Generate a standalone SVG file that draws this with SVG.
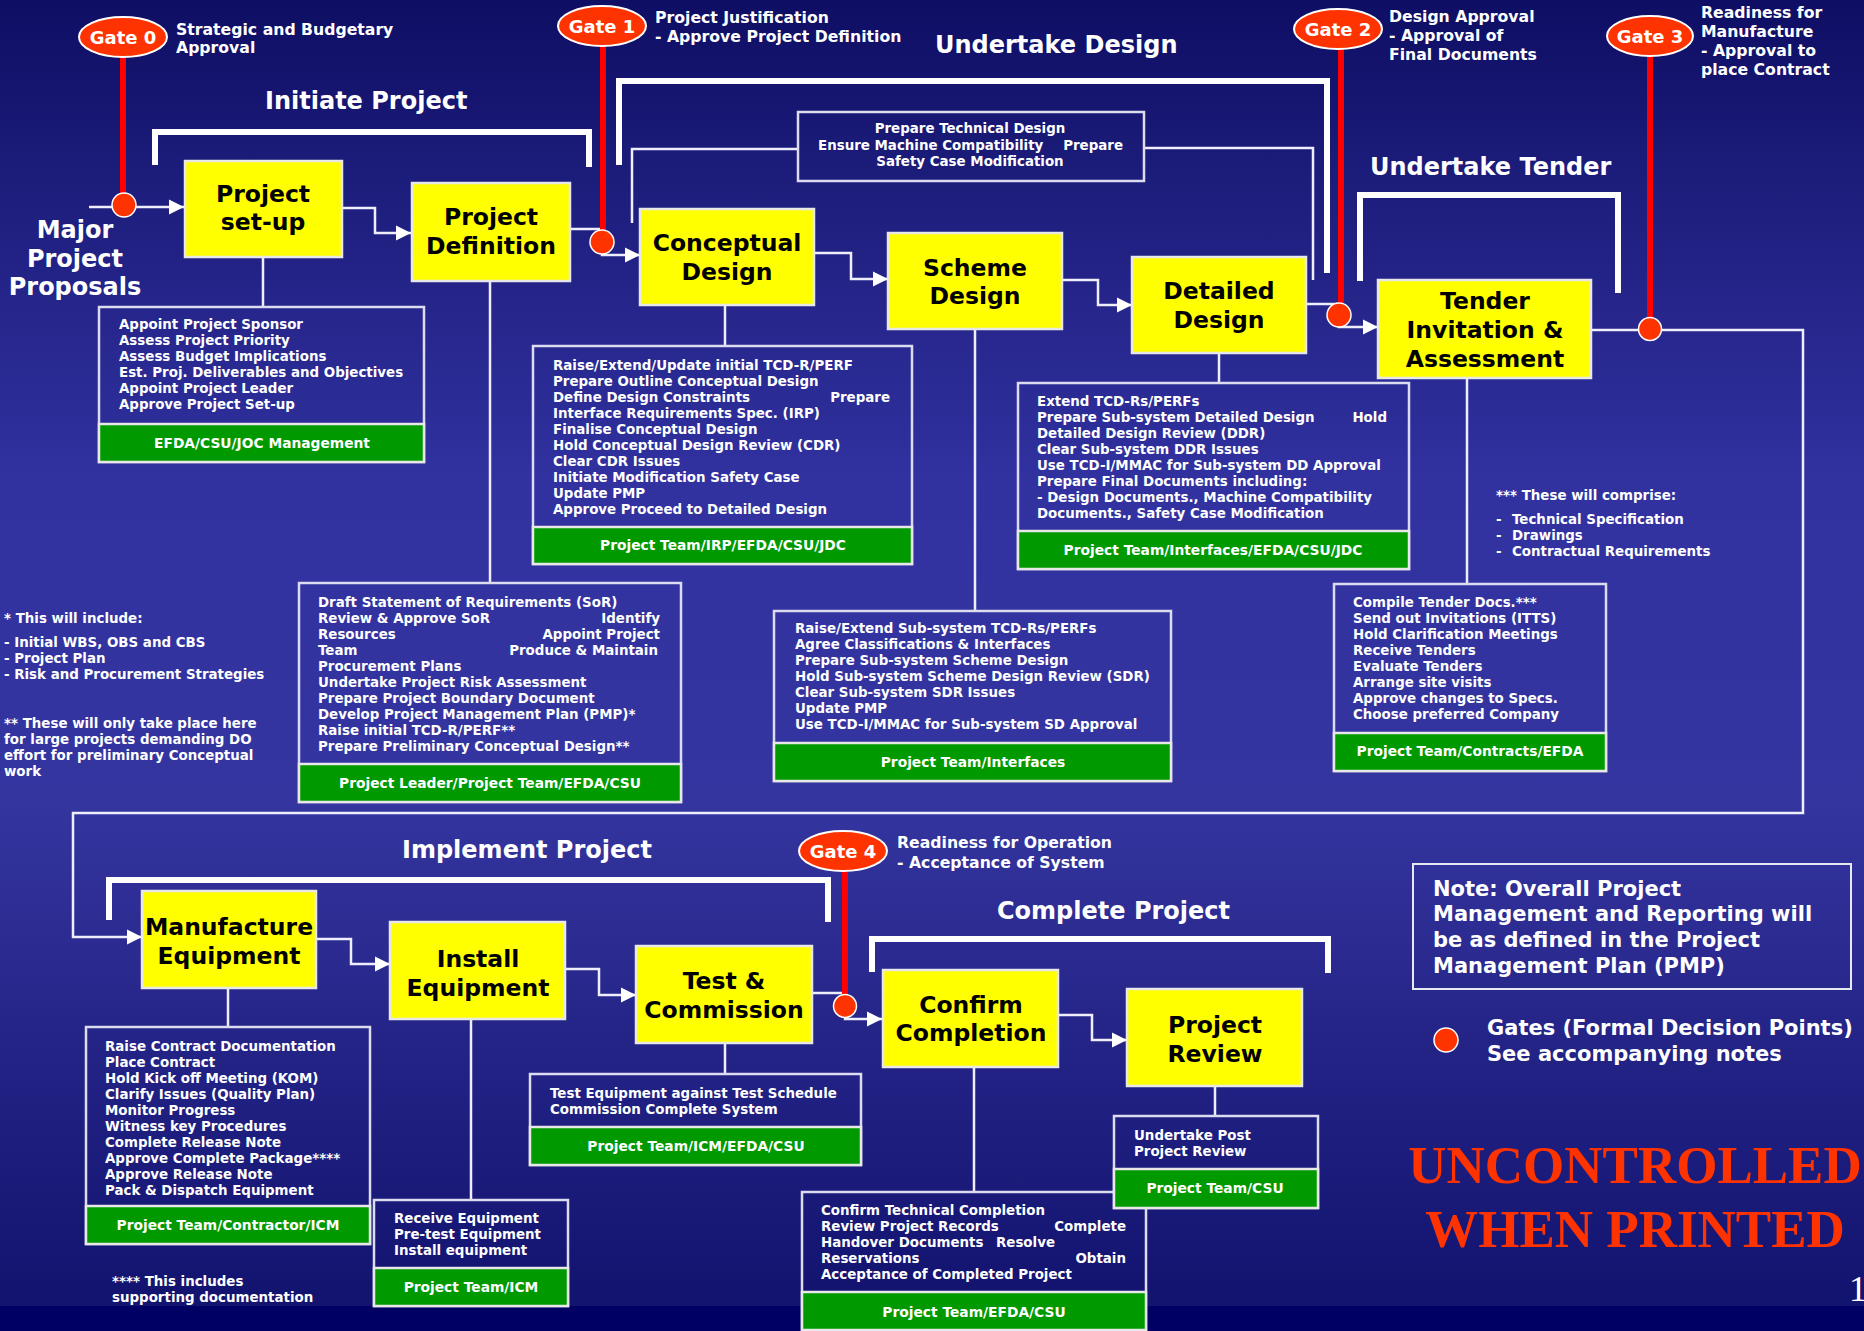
<svg xmlns="http://www.w3.org/2000/svg" width="1864" height="1331" viewBox="0 0 1864 1331">
<defs>
<linearGradient id="bg" x1="0" y1="0" x2="0" y2="1331" gradientUnits="userSpaceOnUse">
<stop offset="0" stop-color="#0e0e64"/>
<stop offset="0.15" stop-color="#1e1e7e"/>
<stop offset="0.36" stop-color="#3131a0"/>
<stop offset="0.6" stop-color="#3535a0"/>
<stop offset="0.76" stop-color="#26268a"/>
<stop offset="0.97" stop-color="#131370"/>
</linearGradient>
<marker id="ar" markerUnits="userSpaceOnUse" markerWidth="16" markerHeight="16" refX="15" refY="8" orient="auto">
<path d="M0,0.5 L15,8 L0,15.5 z" fill="#ffffff"/>
</marker>
<style>
text{font-family:"DejaVu Sans","Verdana",sans-serif;font-weight:bold}
.t{font-size:13.4px;fill:#ffffff}
.e{text-anchor:end}
.g{font-size:13.8px;fill:#ffffff;text-anchor:middle}
.bt{font-size:23.5px;fill:#000000;text-anchor:middle}
.h{font-size:24px;fill:#ffffff}
.gl{font-size:15.7px;fill:#ffffff}
.gt{font-size:18px;fill:#ffffff;text-anchor:middle}
.yb{fill:#ffff00;stroke:#e8e8e8;stroke-width:2.5}
.tb{fill:none;stroke:#dcdcf0;stroke-width:2.5}
.gb{fill:#009900;stroke:#e8e8e8;stroke-width:2.5}
.cn{fill:none;stroke:#eeeeff;stroke-width:2.5}
.br{fill:none;stroke:#ffffff;stroke-width:6;stroke-linejoin:miter}
.rl{stroke:#ff0000;stroke-width:6}
.gc{fill:#ff3300;stroke:#ffffff;stroke-width:1.5}
.ge{fill:#ff3300;stroke:#ffffff;stroke-width:2}
.nt{font-size:21px;fill:#ffffff}
.st{font-family:"Liberation Serif","Times New Roman",serif;font-size:53px;fill:#ff3300;text-anchor:middle}
</style>
</defs>
<rect x="0" y="0" width="1864" height="1331" fill="url(#bg)"/>
<rect x="0" y="1306" width="1864" height="25" fill="#000064"/>

<g id="headings">
<text class="h" x="265" y="109">Initiate Project</text>
<text class="h" x="935" y="53">Undertake Design</text>
<text class="h" x="1370" y="175">Undertake Tender</text>
<text class="h" x="402" y="858">Implement Project</text>
<text class="h" x="997" y="919">Complete Project</text>
<text class="h" x="75" y="238" text-anchor="middle">Major</text>
<text class="h" x="75" y="267" text-anchor="middle">Project</text>
<text class="h" x="75" y="295" text-anchor="middle">Proposals</text>
</g>

<g id="brackets">
<polyline class="br" points="155,165 155,132 589,132 589,167"/>
<polyline class="br" points="619,165 619,81 1327,81 1327,273"/>
<polyline class="br" points="1360,281 1360,195 1618,195 1618,293"/>
<polyline class="br" points="109,920 109,880 828,880 828,922"/>
<polyline class="br" points="872,972 872,939 1328,939 1328,973"/>
</g>

<g id="connectors">
<path class="cn" d="M89,207 H184" marker-end="url(#ar)"/>
<path class="cn" d="M342,208 H375 V233 H411" marker-end="url(#ar)"/>
<path class="cn" d="M570,229 H602 V255 H640" marker-end="url(#ar)"/>
<path class="cn" d="M814,253 H851 V279 H888" marker-end="url(#ar)"/>
<path class="cn" d="M1062,280 H1098 V305 H1132" marker-end="url(#ar)"/>
<path class="cn" d="M1306,304 H1339 V327 H1378" marker-end="url(#ar)"/>
<path class="cn" d="M1591,330 H1803 V813 H73 V937 H142" marker-end="url(#ar)"/>
<path class="cn" d="M316,939 H351 V964 H390" marker-end="url(#ar)"/>
<path class="cn" d="M565,969 H599 V995 H636" marker-end="url(#ar)"/>
<path class="cn" d="M812,993 H845 V1019 H882" marker-end="url(#ar)"/>
<path class="cn" d="M1058,1015 H1092 V1040 H1127" marker-end="url(#ar)"/>
<path class="cn" d="M798,149 H632 V223"/>
<path class="cn" d="M1144,148 H1313 V280"/>
<path class="cn" d="M263,257 V307"/>
<path class="cn" d="M490,281 V583"/>
<path class="cn" d="M725,305 V346"/>
<path class="cn" d="M975,329 V611"/>
<path class="cn" d="M1219,353 V383"/>
<path class="cn" d="M1467,378 V584"/>
<path class="cn" d="M228,988 V1027"/>
<path class="cn" d="M471,1019 V1200"/>
<path class="cn" d="M725,1043 V1074"/>
<path class="cn" d="M974,1067 V1192"/>
<path class="cn" d="M1215,1086 V1116"/>
</g>

<g id="gate0">
<line class="rl" x1="123" y1="55" x2="123" y2="200"/>
<ellipse class="ge" cx="123" cy="37" rx="44" ry="20"/>
<text class="gt" x="123" y="44">Gate 0</text>
<circle class="gc" cx="124" cy="205" r="12"/>
<text class="gl" x="176" y="35">Strategic and Budgetary</text>
<text class="gl" x="176" y="53">Approval</text>
</g>
<g id="gate1">
<line class="rl" x1="603" y1="44" x2="603" y2="238"/>
<ellipse class="ge" cx="602" cy="26" rx="44" ry="20"/>
<text class="gt" x="602" y="33">Gate 1</text>
<circle class="gc" cx="602" cy="242" r="12"/>
<text class="gl" x="655" y="23">Project Justification</text>
<text class="gl" x="655" y="42">- Approve Project Definition</text>
</g>
<g id="gate2">
<line class="rl" x1="1341" y1="47" x2="1341" y2="310"/>
<ellipse class="ge" cx="1338" cy="29" rx="44" ry="20"/>
<text class="gt" x="1338" y="36">Gate 2</text>
<circle class="gc" cx="1339" cy="315" r="12"/>
<text class="gl" x="1389" y="22">Design Approval</text>
<text class="gl" x="1389" y="41">- Approval of</text>
<text class="gl" x="1389" y="60">Final Documents</text>
</g>
<g id="gate3">
<line class="rl" x1="1650" y1="54" x2="1650" y2="324"/>
<ellipse class="ge" cx="1650" cy="36" rx="43" ry="20"/>
<text class="gt" x="1650" y="43">Gate 3</text>
<circle class="gc" cx="1650" cy="329" r="11.5"/>
<text class="gl" x="1701" y="18">Readiness for</text>
<text class="gl" x="1701" y="37">Manufacture</text>
<text class="gl" x="1701" y="56">- Approval to</text>
<text class="gl" x="1701" y="75">place Contract</text>
</g>
<g id="gate4">
<line class="rl" x1="845" y1="869" x2="845" y2="1002"/>
<ellipse class="ge" cx="843" cy="851" rx="44" ry="20"/>
<text class="gt" x="843" y="858">Gate 4</text>
<circle class="gc" cx="845" cy="1006" r="11.5"/>
<text class="gl" x="897" y="848">Readiness for Operation</text>
<text class="gl" x="897" y="868">- Acceptance of System</text>
</g>

<g id="n-setup">
<rect class="yb" x="185" y="161" width="157" height="96"/>
<text class="bt" x="263" y="202">Project</text>
<text class="bt" x="263" y="230">set-up</text>
</g>
<g id="n-definition">
<rect class="yb" x="412" y="183" width="158" height="98"/>
<text class="bt" x="491" y="225">Project</text>
<text class="bt" x="491" y="254">Definition</text>
</g>
<g id="n-conceptual">
<rect class="yb" x="640" y="209" width="174" height="96"/>
<text class="bt" x="727" y="251">Conceptual</text>
<text class="bt" x="727" y="280">Design</text>
</g>
<g id="n-scheme">
<rect class="yb" x="888" y="233" width="174" height="96"/>
<text class="bt" x="975" y="276">Scheme</text>
<text class="bt" x="975" y="304">Design</text>
</g>
<g id="n-detailed">
<rect class="yb" x="1132" y="257" width="174" height="96"/>
<text class="bt" x="1219" y="299">Detailed</text>
<text class="bt" x="1219" y="328">Design</text>
</g>
<g id="n-tender">
<rect class="yb" x="1378" y="280" width="213" height="98"/>
<text class="bt" x="1485" y="309">Tender</text>
<text class="bt" x="1485" y="338">Invitation &amp;</text>
<text class="bt" x="1485" y="367">Assessment</text>
</g>
<g id="n-manufacture">
<rect class="yb" x="142" y="891" width="174" height="97"/>
<text class="bt" x="229" y="935">Manufacture</text>
<text class="bt" x="229" y="964">Equipment</text>
</g>
<g id="n-install">
<rect class="yb" x="390" y="922" width="175" height="97"/>
<text class="bt" x="478" y="967">Install</text>
<text class="bt" x="478" y="996">Equipment</text>
</g>
<g id="n-test">
<rect class="yb" x="636" y="946" width="176" height="97"/>
<text class="bt" x="724" y="989">Test &amp;</text>
<text class="bt" x="724" y="1018">Commission</text>
</g>
<g id="n-confirm">
<rect class="yb" x="883" y="970" width="175" height="97"/>
<text class="bt" x="971" y="1013">Confirm</text>
<text class="bt" x="971" y="1041">Completion</text>
</g>
<g id="n-review">
<rect class="yb" x="1127" y="989" width="175" height="97"/>
<text class="bt" x="1215" y="1033">Project</text>
<text class="bt" x="1215" y="1062">Review</text>
</g>

<g id="t-techdesign">
<rect class="tb" x="798" y="112" width="346" height="69"/>
<text class="t" x="970" y="133" text-anchor="middle">Prepare Technical Design</text>
<text class="t" x="818" y="150">Ensure Machine Compatibility</text>
<text class="t e" x="1123" y="150">Prepare</text>
<text class="t" x="970" y="166" text-anchor="middle">Safety Case Modification</text>
</g>

<g id="t-setup">
<rect class="tb" x="99" y="307" width="325" height="155"/>
<rect class="gb" x="99" y="424" width="325" height="38"/>
<text class="t" x="119" y="329">Appoint Project Sponsor</text>
<text class="t" x="119" y="345">Assess Project Priority</text>
<text class="t" x="119" y="361">Assess Budget Implications</text>
<text class="t" x="119" y="377">Est. Proj. Deliverables and Objectives</text>
<text class="t" x="119" y="393">Appoint Project Leader</text>
<text class="t" x="119" y="409">Approve Project Set-up</text>
<text class="g" x="262" y="448">EFDA/CSU/JOC Management</text>
</g>

<g id="t-definition">
<rect class="tb" x="299" y="583" width="382" height="219"/>
<rect class="gb" x="299" y="764" width="382" height="38"/>
<text class="t" x="318" y="607">Draft Statement of Requirements (SoR)</text>
<text class="t" x="318" y="623">Review &amp; Approve SoR</text>
<text class="t e" x="660" y="623">Identify</text>
<text class="t" x="318" y="639">Resources</text>
<text class="t e" x="660" y="639">Appoint Project</text>
<text class="t" x="318" y="655">Team</text>
<text class="t e" x="658" y="655">Produce &amp; Maintain</text>
<text class="t" x="318" y="671">Procurement Plans</text>
<text class="t" x="318" y="687">Undertake Project Risk Assessment</text>
<text class="t" x="318" y="703">Prepare Project Boundary Document</text>
<text class="t" x="318" y="719">Develop Project Management Plan (PMP)*</text>
<text class="t" x="318" y="735">Raise initial TCD-R/PERF**</text>
<text class="t" x="318" y="751">Prepare Preliminary Conceptual Design**</text>
<text class="g" x="490" y="788">Project Leader/Project Team/EFDA/CSU</text>
</g>

<g id="t-conceptual">
<rect class="tb" x="533" y="346" width="379" height="218"/>
<rect class="gb" x="533" y="527" width="379" height="37"/>
<text class="t" x="553" y="370">Raise/Extend/Update initial TCD-R/PERF</text>
<text class="t" x="553" y="386">Prepare Outline Conceptual Design</text>
<text class="t" x="553" y="402">Define Design Constraints</text>
<text class="t e" x="890" y="402">Prepare</text>
<text class="t" x="553" y="418">Interface Requirements Spec. (IRP)</text>
<text class="t" x="553" y="434">Finalise Conceptual Design</text>
<text class="t" x="553" y="450">Hold Conceptual Design Review (CDR)</text>
<text class="t" x="553" y="466">Clear CDR Issues</text>
<text class="t" x="553" y="482">Initiate Modification Safety Case</text>
<text class="t" x="553" y="498">Update PMP</text>
<text class="t" x="553" y="514">Approve Proceed to Detailed Design</text>
<text class="g" x="723" y="550">Project Team/IRP/EFDA/CSU/JDC</text>
</g>

<g id="t-scheme">
<rect class="tb" x="774" y="611" width="397" height="170"/>
<rect class="gb" x="774" y="743" width="397" height="38"/>
<text class="t" x="795" y="633">Raise/Extend Sub-system TCD-Rs/PERFs</text>
<text class="t" x="795" y="649">Agree Classifications &amp; Interfaces</text>
<text class="t" x="795" y="665">Prepare Sub-system Scheme Design</text>
<text class="t" x="795" y="681">Hold Sub-system Scheme Design Review (SDR)</text>
<text class="t" x="795" y="697">Clear Sub-system SDR Issues</text>
<text class="t" x="795" y="713">Update PMP</text>
<text class="t" x="795" y="729">Use TCD-I/MMAC for Sub-system SD Approval</text>
<text class="g" x="973" y="767">Project Team/Interfaces</text>
</g>

<g id="t-detailed">
<rect class="tb" x="1018" y="383" width="391" height="186"/>
<rect class="gb" x="1018" y="531" width="391" height="38"/>
<text class="t" x="1037" y="406">Extend TCD-Rs/PERFs</text>
<text class="t" x="1037" y="422">Prepare Sub-system Detailed Design</text>
<text class="t e" x="1387" y="422">Hold</text>
<text class="t" x="1037" y="438">Detailed Design Review (DDR)</text>
<text class="t" x="1037" y="454">Clear Sub-system DDR Issues</text>
<text class="t" x="1037" y="470">Use TCD-I/MMAC for Sub-system DD Approval</text>
<text class="t" x="1037" y="486">Prepare Final Documents including:</text>
<text class="t" x="1037" y="502">- Design Documents., Machine Compatibility</text>
<text class="t" x="1037" y="518">Documents., Safety Case Modification</text>
<text class="g" x="1213" y="555">Project Team/Interfaces/EFDA/CSU/JDC</text>
</g>

<g id="t-tender">
<rect class="tb" x="1334" y="584" width="272" height="187"/>
<rect class="gb" x="1334" y="733" width="272" height="38"/>
<text class="t" x="1353" y="607">Compile Tender Docs.***</text>
<text class="t" x="1353" y="623">Send out Invitations (ITTS)</text>
<text class="t" x="1353" y="639">Hold Clarification Meetings</text>
<text class="t" x="1353" y="655">Receive Tenders</text>
<text class="t" x="1353" y="671">Evaluate Tenders</text>
<text class="t" x="1353" y="687">Arrange site visits</text>
<text class="t" x="1353" y="703">Approve changes to Specs.</text>
<text class="t" x="1353" y="719">Choose preferred Company</text>
<text class="g" x="1470" y="756">Project Team/Contracts/EFDA</text>
</g>

<g id="t-manufacture">
<rect class="tb" x="86" y="1027" width="284" height="217"/>
<rect class="gb" x="86" y="1206" width="284" height="38"/>
<text class="t" x="105" y="1051">Raise Contract Documentation</text>
<text class="t" x="105" y="1067">Place Contract</text>
<text class="t" x="105" y="1083">Hold Kick off Meeting (KOM)</text>
<text class="t" x="105" y="1099">Clarify Issues (Quality Plan)</text>
<text class="t" x="105" y="1115">Monitor Progress</text>
<text class="t" x="105" y="1131">Witness key Procedures</text>
<text class="t" x="105" y="1147">Complete Release Note</text>
<text class="t" x="105" y="1163">Approve Complete Package****</text>
<text class="t" x="105" y="1179">Approve Release Note</text>
<text class="t" x="105" y="1195">Pack &amp; Dispatch Equipment</text>
<text class="g" x="228" y="1230">Project Team/Contractor/ICM</text>
</g>

<g id="t-install">
<rect class="tb" x="374" y="1200" width="194" height="106"/>
<rect class="gb" x="374" y="1268" width="194" height="38"/>
<text class="t" x="394" y="1223">Receive Equipment</text>
<text class="t" x="394" y="1239">Pre-test Equipment</text>
<text class="t" x="394" y="1255">Install equipment</text>
<text class="g" x="471" y="1292">Project Team/ICM</text>
</g>

<g id="t-test">
<rect class="tb" x="530" y="1074" width="331" height="91"/>
<rect class="gb" x="530" y="1127" width="331" height="38"/>
<text class="t" x="550" y="1098">Test Equipment against Test Schedule</text>
<text class="t" x="550" y="1114">Commission Complete System</text>
<text class="g" x="696" y="1151">Project Team/ICM/EFDA/CSU</text>
</g>

<g id="t-confirm">
<rect class="tb" x="802" y="1192" width="344" height="138"/>
<rect class="gb" x="802" y="1292" width="344" height="38"/>
<text class="t" x="821" y="1215">Confirm Technical Completion</text>
<text class="t" x="821" y="1231">Review Project Records</text>
<text class="t e" x="1126" y="1231">Complete</text>
<text class="t" x="821" y="1247">Handover Documents</text>
<text class="t" x="996" y="1247">Resolve</text>
<text class="t" x="821" y="1263">Reservations</text>
<text class="t e" x="1126" y="1263">Obtain</text>
<text class="t" x="821" y="1279">Acceptance of Completed Project</text>
<text class="g" x="974" y="1317">Project Team/EFDA/CSU</text>
</g>

<g id="t-review">
<rect class="tb" x="1114" y="1116" width="204" height="92"/>
<rect class="gb" x="1114" y="1169" width="204" height="39"/>
<text class="t" x="1134" y="1140">Undertake Post</text>
<text class="t" x="1134" y="1156">Project Review</text>
<text class="g" x="1215" y="1193">Project Team/CSU</text>
</g>

<g id="footnotes">
<text class="t" x="4" y="623">* This will include:</text>
<text class="t" x="4" y="647">- Initial WBS, OBS and CBS</text>
<text class="t" x="4" y="663">- Project Plan</text>
<text class="t" x="4" y="679">- Risk and Procurement Strategies</text>
<text class="t" x="4" y="728">** These will only take place here</text>
<text class="t" x="4" y="744">for large projects demanding DO</text>
<text class="t" x="4" y="760">effort for preliminary Conceptual</text>
<text class="t" x="4" y="776">work</text>
<text class="t" x="1496" y="500">*** These will comprise:</text>
<text class="t" x="1496" y="524">-</text>
<text class="t" x="1512" y="524">Technical Specification</text>
<text class="t" x="1496" y="540">-</text>
<text class="t" x="1512" y="540">Drawings</text>
<text class="t" x="1496" y="556">-</text>
<text class="t" x="1512" y="556">Contractual Requirements</text>
<text class="t" x="112" y="1286">**** This includes</text>
<text class="t" x="112" y="1302">supporting documentation</text>
</g>

<g id="note">
<rect x="1413" y="864" width="438" height="125" fill="none" stroke="#e8e8f0" stroke-width="2"/>
<text class="nt" x="1433" y="896">Note: Overall Project</text>
<text class="nt" x="1433" y="921">Management and Reporting will</text>
<text class="nt" x="1433" y="947">be as defined in the Project</text>
<text class="nt" x="1433" y="973">Management Plan (PMP)</text>
</g>
<g id="legend">
<circle class="gc" cx="1446" cy="1040" r="12"/>
<text class="nt" x="1487" y="1035">Gates (Formal Decision Points)</text>
<text class="nt" x="1487" y="1061">See accompanying notes</text>
</g>
<g id="stamp">
<text class="st" x="1635" y="1183">UNCONTROLLED</text>
<text class="st" x="1635" y="1247">WHEN PRINTED</text>
<text style="font-family:'Liberation Serif','Times New Roman',serif;font-size:36px;font-weight:normal;fill:#ffffff" x="1849" y="1301">1</text>
</g>
</svg>
